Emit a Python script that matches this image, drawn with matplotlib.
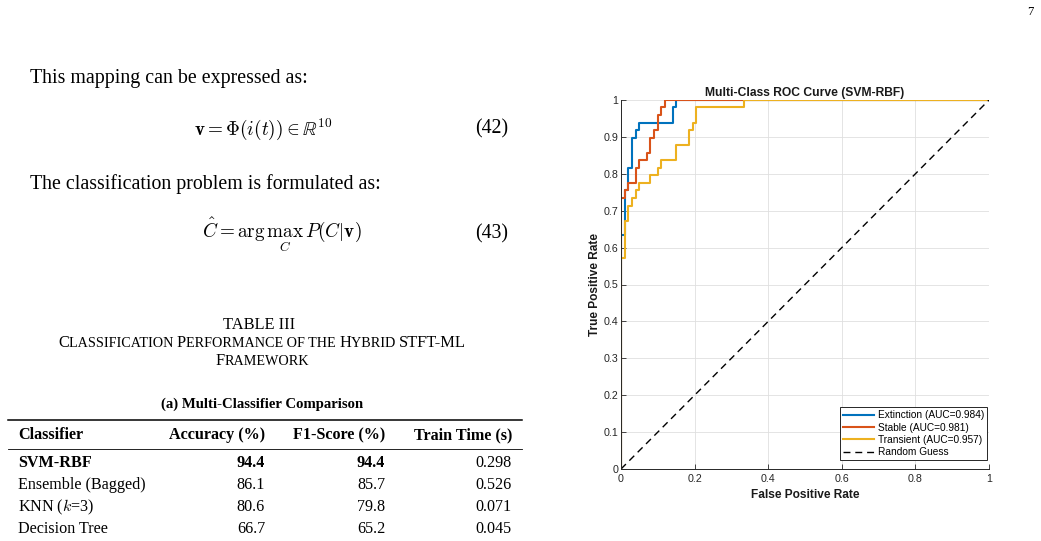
import matplotlib
matplotlib.use("Agg")
import matplotlib.pyplot as plt

plt.rcParams["mathtext.fontset"] = "cm"

# ── ROC curves (step corners) ───────────────────────────────────────────────
ext_fpr = [0, 0, 0.01, 0.02, 0.03, 0.04, 0.05, 0.14, 0.15, 1.0]
ext_tpr = [0, 0.633, 0.755, 0.816, 0.898, 0.918, 0.939, 0.980, 1.0, 1.0]

stb_fpr = [0, 0, 0.01, 0.02, 0.04, 0.05, 0.07, 0.08, 0.09, 0.10, 0.11, 0.12, 1.0]
stb_tpr = [0, 0.735, 0.755, 0.776, 0.816, 0.837, 0.857, 0.898, 0.918, 0.959, 0.980, 1.0, 1.0]

trn_fpr = [0, 0, 0.01, 0.02, 0.03, 0.04, 0.05, 0.08, 0.10, 0.11, 0.15, 0.185, 0.195, 0.205, 0.335, 1.0]
trn_tpr = [0, 0.571, 0.673, 0.714, 0.735, 0.755, 0.776, 0.796, 0.816, 0.837, 0.878, 0.918, 0.939, 0.980, 1.0, 1.0]

auc_labels = ["Extinction (AUC=0.984)", "Stable (AUC=0.981)", "Transient (AUC=0.957)"]

# ── table III(a) ────────────────────────────────────────────────────────────
classifiers = ["SVM-RBF", "Ensemble (Bagged)", "KNN ($k$=3)", "Decision Tree"]
accuracy = ["94.4", "86.1", "80.6", "66.7"]
f1_score = ["94.4", "85.7", "79.8", "65.2"]
train_time = ["0.298", "0.526", "0.071", "0.045"]
headers = ["Classifier", "Accuracy (%)", "F1-Score (%)", "Train Time (s)"]

SERIF = "Liberation Serif"
SANS = "Liberation Sans"

fig = plt.figure(figsize=(10.41, 5.41), dpi=100)
page = fig.add_axes([0, 0, 1, 1])
page.set_xlim(0, 1041)
page.set_ylim(541, 0)
page.axis("off")

BODY = 14.3
MATH = 13.8
CAP = 11.8
TAB = 11.6

page.text(1030, 12, "7", family=SERIF, fontsize=9, ha="center", va="center")

page.text(30, 78, "This mapping can be expressed as:", family=SERIF, fontsize=BODY, va="center")
page.text(263, 129, r"$\mathbf{v} = \Phi(i(t)) \in \mathbb{R}^{10}$", fontsize=MATH, ha="center", va="center")
page.text(508, 129, "(42)", family=SERIF, fontsize=BODY, ha="right", va="center")
page.text(30, 184, "The classification problem is formulated as:", family=SERIF, fontsize=BODY, va="center")
page.text(282, 238, r"$\hat{C} = \arg\max_{C}\, P(C|\mathbf{v})$", fontsize=MATH, ha="center", va="baseline")
page.text(508, 238, "(43)", family=SERIF, fontsize=BODY, ha="right", va="baseline")

page.text(259, 325, "TABLE III", family=SERIF, fontsize=CAP, ha="center", va="center")

renderer = fig.canvas.get_renderer()


def small_caps(s, xc, y, big, small):
    # split into runs of capitals / lower-case letters, lower ones drawn as smaller capitals
    runs = []
    for ch in s:
        is_big = not ch.islower() and ch != " "
        if runs and runs[-1][1] == is_big:
            runs[-1][0] += ch
        else:
            runs.append([ch, is_big])
    texts = []
    for txt, is_big in runs:
        t = page.text(0, y, txt.upper(), family=SERIF, fontsize=big if is_big else small,
                      va="baseline", ha="left")
        texts.append(t)
    widths = [t.get_window_extent(renderer).width for t in texts]
    x = xc - sum(widths) / 2
    for t, w in zip(texts, widths):
        t.set_x(x)
        x += w


small_caps("Classification Performance of the Hybrid STFT-ML", 262, 347, CAP, CAP * 0.86)
small_caps("Framework", 262, 365, CAP, CAP * 0.86)

page.text(262, 404, "(a) Multi-Classifier Comparison", family=SERIF, fontsize=10.6,
          weight="bold", ha="center", va="center")

page.plot([8, 522], [420, 420], color="black", lw=1.1)
page.plot([8, 522], [449, 449], color="black", lw=0.6)

col_x = [18, 265, 385, 512]
head_y = 435
page.text(col_x[0], head_y, headers[0], family=SERIF, fontsize=TAB, weight="bold", va="center")
for cx, h in zip(col_x[1:], headers[1:]):
    page.text(cx, head_y, h, family=SERIF, fontsize=TAB, weight="bold", va="center", ha="right")

row_y = [463, 485, 507, 529]
for i, y in enumerate(row_y):
    w = "bold" if i == 0 else "normal"
    page.text(col_x[0], y, classifiers[i], family=SERIF, fontsize=TAB, weight=w, va="center")
    page.text(col_x[1], y, accuracy[i], family=SERIF, fontsize=TAB, weight=w, va="center", ha="right")
    page.text(col_x[2], y, f1_score[i], family=SERIF, fontsize=TAB, weight=w, va="center", ha="right")
    page.text(col_x[3], y, train_time[i], family=SERIF, fontsize=TAB, va="center", ha="right")

# ── ROC plot ────────────────────────────────────────────────────────────────
AX_C = "#262626"
ax = fig.add_axes([621 / 1041, 1 - 469 / 541, 368 / 1041, 369 / 541])
ax.plot(ext_fpr, ext_tpr, drawstyle="steps-post", color="#0072BD", lw=1.5, label=auc_labels[0])
ax.plot(stb_fpr, stb_tpr, drawstyle="steps-post", color="#D95319", lw=1.5, label=auc_labels[1])
ax.plot(trn_fpr, trn_tpr, drawstyle="steps-post", color="#EDB120", lw=1.5, label=auc_labels[2])
ax.plot([0, 1], [0, 1], color="black", lw=1.0, dashes=(5, 3.5), label="Random Guess")

ax.set_xlim(0, 1)
ax.set_ylim(0, 1)
ax.set_xticks([0, 0.2, 0.4, 0.6, 0.8, 1])
ax.set_xticklabels(["0", "0.2", "0.4", "0.6", "0.8", "1"])
ax.set_yticks([i / 10 for i in range(11)])
ax.set_yticklabels(["0"] + [f"{i / 10:g}" for i in range(1, 10)] + ["1"])
ax.grid(True, color="#dfdfdf", lw=0.6)
ax.set_axisbelow(True)
for side in ["top", "right"]:
    ax.spines[side].set_visible(False)
for side in ["left", "bottom"]:
    ax.spines[side].set_color(AX_C)
    ax.spines[side].set_linewidth(0.7)
ax.tick_params(direction="in", length=3.5, width=0.6, labelsize=7.7,
               colors=AX_C, labelfontfamily=SANS)
ax.tick_params(axis="x", pad=3.5)
ax.tick_params(axis="y", pad=2)

ax.set_title("Multi-Class ROC Curve (SVM-RBF)", family=SANS, fontsize=8.7, weight="bold",
             color="#1a1a1a", pad=3)
ax.set_xlabel("False Positive Rate", family=SANS, fontsize=8.6, weight="bold", color="#1a1a1a",
              labelpad=4)
ax.set_ylabel("True Positive Rate", family=SANS, fontsize=8.6, weight="bold", color="#1a1a1a",
              labelpad=2)

leg = ax.legend(loc="lower right", bbox_to_anchor=(0.995, 0.024), borderaxespad=0,
                prop={"family": SANS, "size": 7.3}, fancybox=False,
                edgecolor=AX_C, framealpha=1, handlelength=3.0, handletextpad=0.4,
                labelspacing=0.22, borderpad=0.3)
leg.get_frame().set_linewidth(0.7)

fig.savefig("out.png", dpi=100, facecolor="white")
